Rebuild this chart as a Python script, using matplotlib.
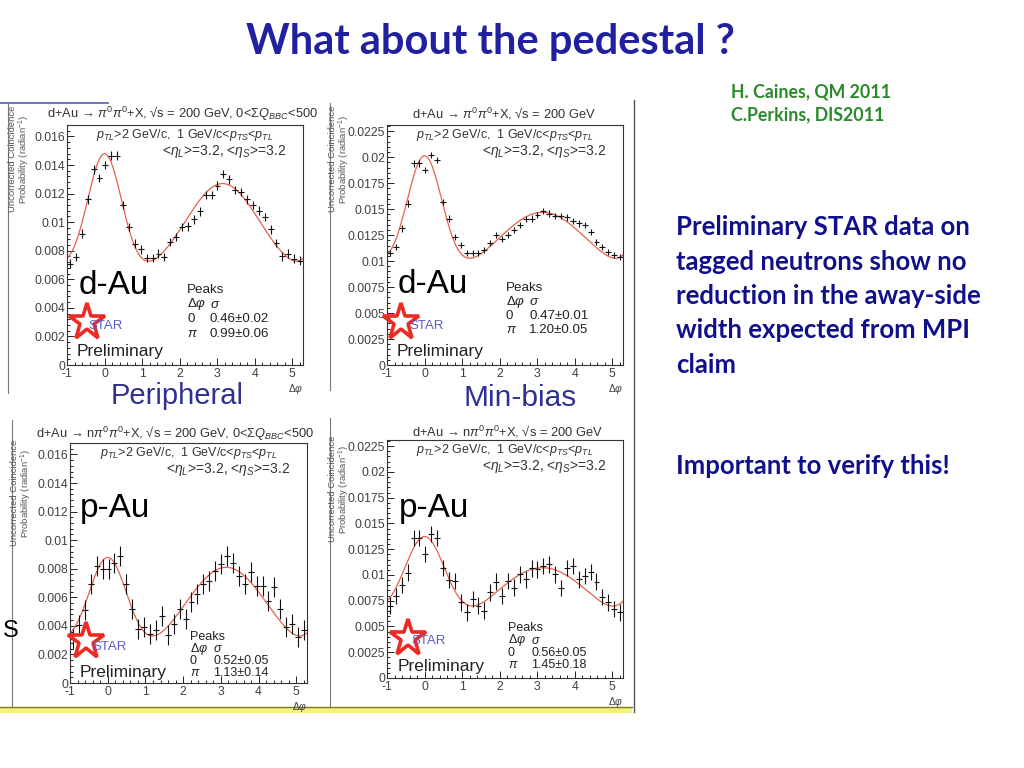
import numpy as np
import matplotlib
matplotlib.use('Agg')
import matplotlib.pyplot as plt
from matplotlib.ticker import MultipleLocator, FuncFormatter

plt.rcParams['font.family'] = ['Liberation Sans', 'DejaVu Sans']
plt.rcParams['mathtext.fontset'] = 'custom'
plt.rcParams['mathtext.rm'] = 'Liberation Sans'
plt.rcParams['mathtext.it'] = 'Liberation Sans:italic'
plt.rcParams['mathtext.bf'] = 'Liberation Sans:bold'

# ---------------- data ----------------
n_bins = 40
bin_edges = np.linspace(-1.0, 2 * np.pi - 1.0, n_bins + 1)
dphi = 0.5 * (bin_edges[1:] + bin_edges[:-1])
half_bin = 0.5 * (bin_edges[1] - bin_edges[0])

# d-Au peripheral
p1_y = [0.0071, 0.00756, 0.0092, 0.0116, 0.0137, 0.0131, 0.0140, 0.01465, 0.01465, 0.0112,
        0.00965, 0.0085, 0.0081, 0.0075, 0.0075, 0.0078, 0.00756, 0.0086, 0.00895, 0.00965,
        0.0097, 0.0102, 0.01075, 0.0119, 0.0119, 0.01256, 0.01337, 0.0130, 0.01226, 0.0121,
        0.0116, 0.0112, 0.0108, 0.01035, 0.0095, 0.00855, 0.0076, 0.0078, 0.00745, 0.0073]
p1_err = 0.0003
# d-Au min-bias
p2_y = [0.0108, 0.01138, 0.01314, 0.01554, 0.0194, 0.0194, 0.0188, 0.0202, 0.0197, 0.0157,
        0.0141, 0.01234, 0.01154, 0.0108, 0.0108, 0.0108, 0.01106, 0.01176, 0.0125, 0.0121,
        0.0125, 0.0130, 0.01346, 0.01404, 0.0141, 0.01442, 0.0148, 0.01458, 0.01433, 0.01433,
        0.0142, 0.01388, 0.01362, 0.01346, 0.01282, 0.01186, 0.01138, 0.0109, 0.01058, 0.01042]
p2_err = 0.0003
# p-Au peripheral
p3_y = [0.0031, 0.00403, 0.0051, 0.00693, 0.0082, 0.0080, 0.0080, 0.0084, 0.0089, 0.00693,
        0.00515, 0.00376, 0.0039, 0.0034, 0.00369, 0.00466, 0.00334, 0.00415, 0.0052, 0.0045,
        0.00566, 0.00624, 0.00693, 0.00716, 0.00786, 0.00832, 0.0089, 0.00837, 0.0075, 0.00693,
        0.00774, 0.00682, 0.00682, 0.00577, 0.00675, 0.00515, 0.0039, 0.0041, 0.00322, 0.00369]
p3_err = 0.0007
# p-Au min-bias
p4_y = [0.00702, 0.00798, 0.00904, 0.01022, 0.01359, 0.01359, 0.01205, 0.01397, 0.01359, 0.0107,
        0.00949, 0.00942, 0.00734, 0.00638, 0.00766, 0.00702, 0.00654, 0.0083, 0.00936, 0.00798,
        0.00942, 0.00878, 0.01006, 0.00958, 0.01064, 0.01054, 0.01087, 0.01103, 0.01006, 0.00872,
        0.0107, 0.01087, 0.00958, 0.0099, 0.0103, 0.00936, 0.00788, 0.00734, 0.0067, 0.00638]
p4_err = 0.0008

# fit parameters: baseline, near amplitude, near sigma, away amplitude, away sigma
p1_fit = (0.0060, 0.0087, 0.46, 0.0067, 0.99)
p2_fit = (0.0080, 0.0117, 0.47, 0.0067, 1.20)
p3_fit = (0.0012, 0.0073, 0.52, 0.0069, 1.13)
p4_fit = (0.0027, 0.0095, 0.56, 0.0080, 1.45)

sigma_labels = [("0.46", "0.02", "0.99", "0.06"), ("0.47", "0.01", "1.20", "0.05"),
                ("0.52", "0.05", "1.13", "0.14"), ("0.56", "0.05", "1.45", "0.18")]

titles = [r"d+Au → $\pi^{0}\pi^{0}$+X, √s = 200 GeV, 0<$\Sigma Q_{BBC}$<500",
          r"d+Au → $\pi^{0}\pi^{0}$+X, √s = 200 GeV",
          r"d+Au → n$\pi^{0}\pi^{0}$+X, √s = 200 GeV, 0<$\Sigma Q_{BBC}$<500",
          r"d+Au → n$\pi^{0}\pi^{0}$+X, √s = 200 GeV"]
systems = ["d-Au", "d-Au", "p-Au", "p-Au"]


def fit_curve(x, pars):
    b, a1, s1, a2, s2 = pars
    y = np.full_like(x, b)
    for k in (-1, 0, 1):
        y += a1 * np.exp(-(x - 2 * np.pi * k) ** 2 / (2 * s1 ** 2))
        y += a2 * np.exp(-(x - np.pi - 2 * np.pi * k) ** 2 / (2 * s2 ** 2))
    return y


W, H = 1024, 768
fig = plt.figure(figsize=(W / 100, H / 100), dpi=100)
bg = fig.add_axes([0, 0, 1, 1], zorder=0)
bg.set_xlim(0, W)
bg.set_ylim(H, 0)
bg.axis('off')


def box(l, t, r, b):
    return [l / W, 1 - b / H, (r - l) / W, (b - t) / H]


panels = [
    dict(box=(67, 125, 303, 365), y=p1_y, err=p1_err, fit=p1_fit, ymax=0.0168, major=0.002,
         minor=0.0004, tx=183, ty=114, ylx=20, yly=106, sysxy=(79, 285), peaks=(187, 290),
         star=(87, 322), starlab=(88, 326), prelim=(77, 352), prow=14.5, pfs=9.6),
    dict(box=(387, 125, 623, 365), y=p2_y, err=p2_err, fit=p2_fit, ymax=0.0231, major=0.0025,
         minor=0.0005, tx=504, ty=114, ylx=340, yly=106, sysxy=(398, 284), peaks=(506, 288),
         star=(401, 322), starlab=(409, 326), prelim=(397, 352), prow=14.0, pfs=9.6),
    dict(box=(70, 443, 307, 683), y=p3_y, err=p3_err, fit=p3_fit, ymax=0.0168, major=0.002,
         minor=0.0004, tx=175, ty=434, ylx=22, yly=440, sysxy=(80, 509), peaks=(190, 637),
         star=(86, 641), starlab=(92, 647), prelim=(80, 673), prow=12.0, pfs=9.0),
    dict(box=(387, 440, 623, 678), y=p4_y, err=p4_err, fit=p4_fit, ymax=0.0231, major=0.0025,
         minor=0.0005, tx=507, ty=432, ylx=340, yly=436, sysxy=(399, 509), peaks=(508, 628),
         star=(408, 638), starlab=(411, 641), prelim=(398, 667), prow=12.5, pfs=9.0),
]

xfine = np.linspace(-1.0, 2 * np.pi - 1.0, 400)
gray = '#404040'

for i, p in enumerate(panels):
    l, t, r, b = p['box']
    ax = fig.add_axes(box(l, t, r, b), zorder=2)
    ax.set_facecolor('white')
    ax.plot(xfine, fit_curve(xfine, p['fit']), color='#e8604c', lw=0.9, zorder=2)
    ax.errorbar(dphi, p['y'], xerr=half_bin, yerr=p['err'], fmt='none', ecolor='#111111',
                elinewidth=0.8, capsize=0, zorder=3)
    ax.set_xlim(-1.0, 2 * np.pi - 1.0)
    ax.set_ylim(0, p['ymax'])
    ax.xaxis.set_major_locator(MultipleLocator(1))
    ax.xaxis.set_minor_locator(MultipleLocator(0.2))
    ax.yaxis.set_major_locator(MultipleLocator(p['major']))
    ax.yaxis.set_minor_locator(MultipleLocator(p['minor']))
    ax.yaxis.set_major_formatter(FuncFormatter(lambda v, pos: '%g' % round(v, 6)))
    ax.xaxis.set_major_formatter(FuncFormatter(lambda v, pos: ('-%g' % -v) if v < 0 else '%g' % round(v, 6)))
    ax.tick_params(which='both', direction='in', top=False, right=False, colors='#222222',
                   labelcolor=gray, labelsize=8.8, width=0.7)
    ax.tick_params(axis='y', pad=1.5)
    ax.tick_params(axis='x', pad=2.5)
    ax.tick_params(which='major', length=5)
    ax.tick_params(which='minor', length=2.5)
    for s in ax.spines.values():
        s.set_linewidth(0.8)
        s.set_color('#333333')
    # texts inside the frame
    ax.text(0.5, 0.957, r"$p_{TL}$>2 GeV/c,  1 GeV/c<$p_{TS}$<$p_{TL}$", transform=ax.transAxes,
            ha='center', va='center', fontsize=9, color='#333333')
    ax.text(0.93, 0.89, r"<$\eta_{L}$>=3.2, <$\eta_{S}$>=3.2", transform=ax.transAxes,
            ha='right', va='center', fontsize=10, color='#333333')
    ax.text(1.0, -0.072, r"$\Delta\varphi$", transform=ax.transAxes, ha='right', va='top',
            fontsize=7.5, color=gray)
    # titles and labels in pixel coordinates
    bg.text(p['tx'], p['ty'], titles[i], ha='center', va='center', fontsize=9.3, color='#333333')
    fig.text(p['ylx'] / W, 1 - p['yly'] / H,
             "Uncorrected Coincidence\nProbability (radian$^{-1}$)", rotation=90,
             ha='center', va='top', fontsize=6.8, color='#555555', linespacing=1.0, zorder=3)
    sx, sy = p['sysxy']
    fig.text(sx / W, 1 - sy / H, systems[i], ha='left', va='center', fontsize=24,
             color='black', zorder=5)
    px, py = p['peaks']
    row = p['prow']
    sl = sigma_labels[i]
    for txt, xo, yo in [("Peaks", 0, 0), (r"$\Delta\varphi$", 0, 1), (r"$\sigma$", 23, 1),
                        ("0", 0, 2), (sl[0] + "±" + sl[1], 23, 2),
                        (r"$\pi$", 0, 3), (sl[2] + "±" + sl[3], 23, 3)]:
        fig.text((px + xo) / W, 1 - (py + yo * row) / H, txt, ha='left', va='center',
                 fontsize=p['pfs'], color='#222222', zorder=5)
    stx, sty = p['star']
    fig.lines.append(plt.Line2D([stx / W], [1 - sty / H], marker='*', ms=28, mfc='none',
                                mec='#ee2a24', mew=2.6, transform=fig.transFigure, zorder=6))
    lx, ly = p['starlab']
    fig.text(lx / W, 1 - ly / H, "STAR", ha='left', va='center', fontsize=9.5,
             color='#5a5ac8', zorder=7)
    prx, pry = p['prelim']
    fig.text(prx / W, 1 - pry / H, "Preliminary", ha='left', va='center', fontsize=12.5,
             color='#222222', zorder=7)

# panel captions
bg.text(177, 396, "Peripheral", ha='center', va='center', fontsize=21, color='#2e3192')
bg.text(520, 398, "Min-bias", ha='center', va='center', fontsize=21.5, color='#2e3192')

# decorative frame lines of the pasted figure
bg.plot([0, 108], [103, 103], color='#5a5ab8', lw=1.2)
bg.plot([8, 8], [104, 393], color='#777777', lw=0.8)
bg.plot([12, 12], [420, 706], color='#777777', lw=0.8)
bg.plot([330, 330], [103, 390], color='#777777', lw=0.8)
bg.plot([330, 330], [418, 706], color='#777777', lw=0.8)
bg.plot([634, 634], [100, 712], color='#555555', lw=1.0)
bg.fill_between([0, 632], [707, 707], [713, 713], color='#f4f07a', lw=0)
bg.plot([0, 632], [707, 707], color='#7a7a20', lw=1.0)
bg.text(3, 631, "S", ha='left', va='center', fontsize=17, color='black')

# slide text
bg.text(490, 42, "What about the pedestal ?", ha='center', va='center', fontsize=30,
        fontweight='bold', color='#2020a0', family='Lato')
bg.text(731, 92, "H. Caines, QM 2011", ha='left', va='center', fontsize=12.8,
        fontweight='bold', color='#2a8a2a', family='Lato')
bg.text(731, 115, "C.Perkins, DIS2011", ha='left', va='center', fontsize=12.8,
        fontweight='bold', color='#2a8a2a', family='Lato')
body = ["Preliminary STAR data on", "tagged neutrons show no", "reduction in the away-side",
        "width expected from MPI", "claim"]
for k, line in enumerate(body):
    bg.text(676, 227 + k * 34.5, line, ha='left', va='center', fontsize=18.5,
            fontweight='bold', color='#10108a', family='Lato')
bg.text(676, 466, "Important to verify this!", ha='left', va='center', fontsize=18.5,
        fontweight='bold', color='#10108a', family='Lato')

fig.savefig('out.png', dpi=100)
